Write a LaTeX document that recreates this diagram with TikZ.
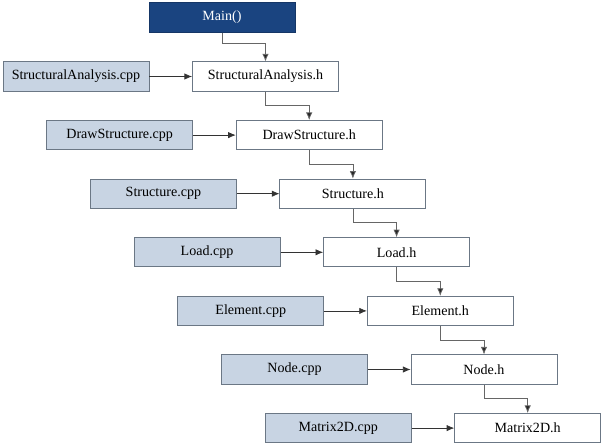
\documentclass[tikz,border=0pt]{standalone}
\usepackage{fontspec}
\setmainfont{Liberation Serif}
\usetikzlibrary{arrows.meta,calc}
\definecolor{mainblue}{HTML}{1A4480}
\definecolor{cppfill}{HTML}{C8D4E3}
\definecolor{boxline}{HTML}{6B7785}
\tikzset{
  filebox/.style={draw=boxline,line width=0.6pt,minimum width=3.65cm,
    minimum height=0.73cm,inner sep=2pt,font=\fontsize{10}{12}\selectfont},
  cppbox/.style={filebox,fill=cppfill},
  hbox/.style={filebox,fill=white},
  mainbox/.style={filebox,fill=mainblue,draw=mainblue!80!black,text=white},
  linkarrow/.style={-{Latex[length=1.9mm,width=1.6mm]},line width=0.55pt,draw=black!80},
  chainarrow/.style={linkarrow,draw=black!60,-{Latex[length=1.9mm,width=1.6mm,fill=black!85]}}
}
\begin{document}
\begin{tikzpicture}[x=0.025cm,y=0.025cm]
\path[use as bounding box] (0,0) rectangle (601,-448);
\node[mainbox] (main) at (222,-17.5) {Main()};
% source files on the left, headers on the right
\foreach \name [count=\i from 0] in {StructuralAnalysis,DrawStructure,Structure,Load,Element,Node,Matrix2D}{
  \node[cppbox] (cpp\i) at ({76+43.7*\i},{-76.5-58.6*\i}) {\name.cpp};
  \node[hbox] (h\i) at ({265.5+43.7*\i},{-76.5-58.6*\i}) {\name.h};
  \draw[linkarrow] (cpp\i) -- (h\i);
}
% include chain
\draw[chainarrow] (main.south) -- ++(0,-11) -| (h0.north);
\foreach \i [count=\j from 1] in {0,...,5}
  \draw[chainarrow] (h\i.south) -- ++(0,-14) -| (h\j.north);
\end{tikzpicture}
\end{document}
